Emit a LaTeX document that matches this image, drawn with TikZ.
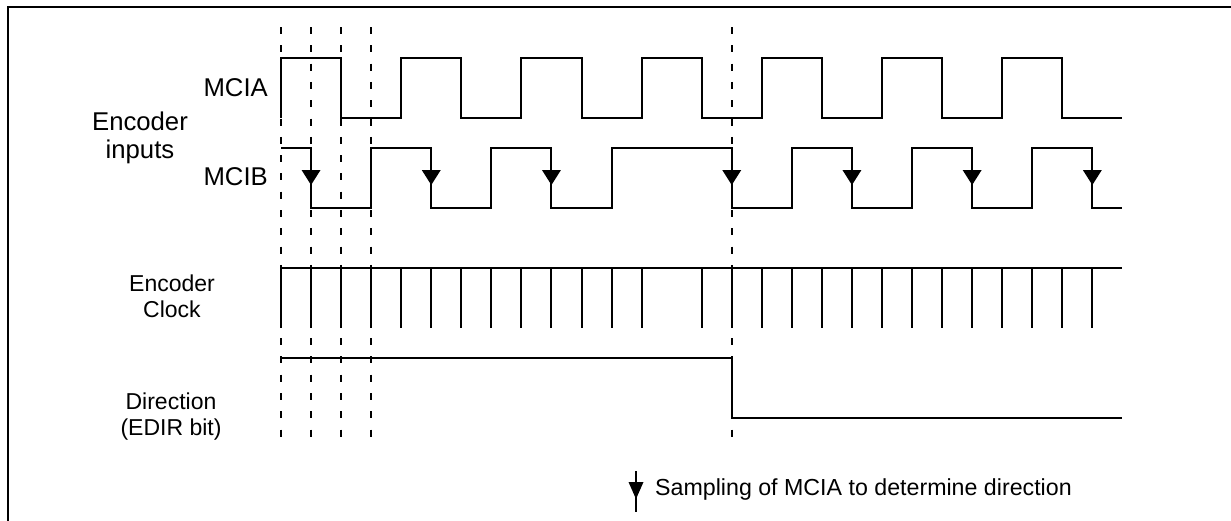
\documentclass[tikz,border=0pt]{standalone}
\usepackage{fontspec}
\setmainfont{Liberation Sans}

\tikzset{
	wave/.style={line width=2pt},
	guide/.style={line width=2pt, dash pattern=on 7pt off 11.3pt},
	biglabel/.style={font=\fontsize{25.7}{27.5}\selectfont, inner sep=0pt, align=center},
	smalllabel/.style={font=\fontsize{23}{26}\selectfont, inner sep=0pt, align=center},
	samplemark/.pic={\fill (-9.5pt,15pt) -- (9.5pt,15pt) -- (0pt,0pt) -- cycle;}
}

\begin{document}
\begin{tikzpicture}[x=1pt, y=-1pt]
	\useasboundingbox (0,0) rectangle (1231,520);
	% frame, only its top and left edges fall inside the picture
	\draw[line width=2.5pt] (8,530) -- (8,7) -- (1240,7);
	% signal names
	\node[biglabel] (inputs) at (140,138) {Encoder\\inputs};
	\node[biglabel, anchor=base east] (mcia) at (268,96) {MCIA};
	\node[biglabel, anchor=base east] (mcib) at (268,185) {MCIB};
	\node[smalllabel] (clock) at (172,296) {Encoder\\Clock};
	\node[smalllabel] (dir) at (171,417) {Direction\\(EDIR bit)};
	% one step of the time grid is 30.05px
	\begin{scope}[shift={(281,0)}, x=30.05pt]
		% sampling instants
		\foreach \k in {0,1,2,3,15}
			\draw[guide] (\k,27) -- (\k,447);
		% MCIA
		\draw[wave] (0,118) \foreach \k in {0,4,...,24} { -- (\k,58) -- (\k+2,58) -- (\k+2,118) -- (\k+4,118) };
		% MCIB, reverses at step 15
		\draw[wave] (0,148) -- (1,148) -- (1,208) -- (3,208) -- (3,148) -- (5,148) -- (5,208)
			-- (7,208) -- (7,148) -- (9,148) -- (9,208) -- (11,208) -- (11,148) -- (15,148)
			-- (15,208) -- (17,208) -- (17,148) -- (19,148) -- (19,208) -- (21,208) -- (21,148)
			-- (23,148) -- (23,208) -- (25,208) -- (25,148) -- (27,148) -- (27,208) -- (28,208);
		\foreach \k in {1,5,9,15,19,23,27}
			\pic at (\k,185) {samplemark};
		% encoder clock
		\draw[wave] (0,268) -- (28,268);
		\foreach \k in {0,...,12,14,15,...,27}
			\draw[wave] (\k,268) -- (\k,328);
		% direction bit
		\draw[wave] (0,358) -- (15,358) -- (15,418) -- (28,418);
	\end{scope}
	% legend
	\coordinate (legtop) at (636,471);
	\coordinate (legbot) at (636,512);
	\draw[wave] (legtop) -- (legbot);
	\fill (628.5,482) -- (643.5,482) -- (636,499) -- cycle;
	\node[font=\fontsize{23.2}{26}\selectfont, inner sep=0pt, anchor=base west] (legend) at (655,495)
		{Sampling of MCIA to determine direction};
\end{tikzpicture}
\end{document}
